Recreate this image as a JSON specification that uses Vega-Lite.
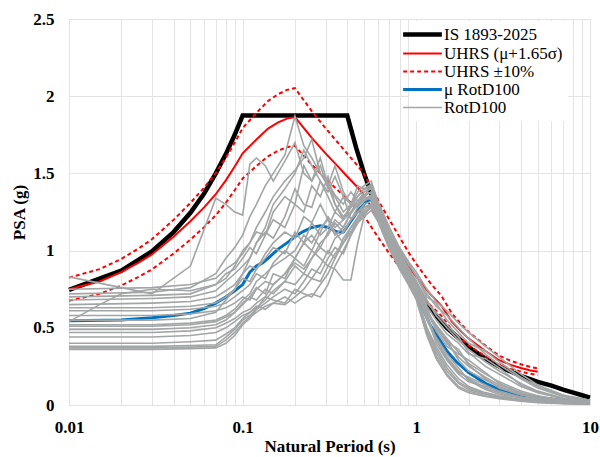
{
"$schema":"https://vega.github.io/schema/vega-lite/v6.json",
"width":521,"height":386,
"autosize":{"type":"none"},
"padding":{"left":69,"top":19,"right":10,"bottom":52},
"config":{
 "font":"Liberation Serif, Times New Roman, serif",
 "view":{"stroke":"#d9d9d9"},
 "axis":{"labelFont":"Liberation Serif, Times New Roman, serif","labelFontSize":17,"labelFontWeight":"bold","labelColor":"#000","titleFont":"Liberation Serif, Times New Roman, serif","titleFontSize":17,"titleFontWeight":"bold","titleColor":"#000","gridColor":"#e3e3e3","gridWidth":1,"ticks":false,"domain":false},
 "legend":{"orient":"none","legendX":340,"legendY":2,"fillColor":"#ffffff","padding":5,"labelFont":"Liberation Serif, Times New Roman, serif","labelFontSize":17,"labelColor":"#000","symbolType":"stroke","symbolSize":1500,"labelOffset":13,"rowPadding":0,"labelLimit":300}
},
"datasets":{
"is":[{"t":0.01,"v":0.745},{"t":0.02,"v":0.87},{"t":0.03,"v":0.995},{"t":0.04,"v":1.12},{"t":0.05,"v":1.245},{"t":0.06,"v":1.37},{"t":0.07,"v":1.5},{"t":0.08,"v":1.625},{"t":0.09,"v":1.75},{"t":0.1,"v":1.875},{"t":0.4,"v":1.875},{"t":0.45,"v":1.667},{"t":0.5,"v":1.5},{"t":0.6,"v":1.25},{"t":0.7,"v":1.071},{"t":0.8,"v":0.938},{"t":0.9,"v":0.833},{"t":1,"v":0.75},{"t":1.25,"v":0.6},{"t":1.5,"v":0.5},{"t":2,"v":0.375},{"t":2.5,"v":0.3},{"t":3,"v":0.25},{"t":4,"v":0.188},{"t":5,"v":0.15},{"t":6,"v":0.125},{"t":7,"v":0.1},{"t":8,"v":0.08},{"t":9,"v":0.063},{"t":10,"v":0.048}],
"uh":[{"t":0.01,"v":0.75},{"t":0.015,"v":0.8},{"t":0.02,"v":0.86},{"t":0.025,"v":0.92},{"t":0.03,"v":0.975},{"t":0.04,"v":1.09},{"t":0.05,"v":1.19},{"t":0.06,"v":1.28},{"t":0.07,"v":1.365},{"t":0.08,"v":1.455},{"t":0.09,"v":1.545},{"t":0.1,"v":1.63},{"t":0.12,"v":1.72},{"t":0.14,"v":1.79},{"t":0.16,"v":1.83},{"t":0.18,"v":1.855},{"t":0.2,"v":1.865},{"t":0.25,"v":1.73},{"t":0.3,"v":1.63},{"t":0.35,"v":1.55},{"t":0.4,"v":1.48},{"t":0.45,"v":1.42},{"t":0.5,"v":1.36},{"t":0.6,"v":1.21},{"t":0.7,"v":1.09},{"t":0.8,"v":0.99},{"t":0.9,"v":0.9},{"t":1,"v":0.83},{"t":1.2,"v":0.72},{"t":1.4,"v":0.64},{"t":1.6,"v":0.54},{"t":1.8,"v":0.48},{"t":2,"v":0.43},{"t":2.5,"v":0.35},{"t":3,"v":0.29},{"t":3.5,"v":0.26},{"t":4,"v":0.24},{"t":4.5,"v":0.225},{"t":5,"v":0.215}],
"ub":[{"s":"a","t":0.01,"v":0.825},{"s":"a","t":0.015,"v":0.88},{"s":"a","t":0.02,"v":0.946},{"s":"a","t":0.025,"v":1.012},{"s":"a","t":0.03,"v":1.073},{"s":"a","t":0.04,"v":1.199},{"s":"a","t":0.05,"v":1.309},{"s":"a","t":0.06,"v":1.408},{"s":"a","t":0.07,"v":1.502},{"s":"a","t":0.08,"v":1.601},{"s":"a","t":0.09,"v":1.7},{"s":"a","t":0.1,"v":1.793},{"s":"a","t":0.12,"v":1.892},{"s":"a","t":0.14,"v":1.969},{"s":"a","t":0.16,"v":2.013},{"s":"a","t":0.18,"v":2.041},{"s":"a","t":0.2,"v":2.052},{"s":"a","t":0.25,"v":1.903},{"s":"a","t":0.3,"v":1.793},{"s":"a","t":0.35,"v":1.705},{"s":"a","t":0.4,"v":1.628},{"s":"a","t":0.45,"v":1.562},{"s":"a","t":0.5,"v":1.496},{"s":"a","t":0.6,"v":1.331},{"s":"a","t":0.7,"v":1.199},{"s":"a","t":0.8,"v":1.089},{"s":"a","t":0.9,"v":0.99},{"s":"a","t":1,"v":0.913},{"s":"a","t":1.2,"v":0.792},{"s":"a","t":1.4,"v":0.704},{"s":"a","t":1.6,"v":0.594},{"s":"a","t":1.8,"v":0.528},{"s":"a","t":2,"v":0.473},{"s":"a","t":2.5,"v":0.385},{"s":"a","t":3,"v":0.319},{"s":"a","t":3.5,"v":0.286},{"s":"a","t":4,"v":0.264},{"s":"a","t":4.5,"v":0.248},{"s":"a","t":5,"v":0.237},
{"s":"b","t":0.01,"v":0.675},{"s":"b","t":0.015,"v":0.72},{"s":"b","t":0.02,"v":0.774},{"s":"b","t":0.025,"v":0.828},{"s":"b","t":0.03,"v":0.878},{"s":"b","t":0.04,"v":0.981},{"s":"b","t":0.05,"v":1.071},{"s":"b","t":0.06,"v":1.152},{"s":"b","t":0.07,"v":1.229},{"s":"b","t":0.08,"v":1.31},{"s":"b","t":0.09,"v":1.391},{"s":"b","t":0.1,"v":1.467},{"s":"b","t":0.12,"v":1.548},{"s":"b","t":0.14,"v":1.611},{"s":"b","t":0.16,"v":1.647},{"s":"b","t":0.18,"v":1.67},{"s":"b","t":0.2,"v":1.679},{"s":"b","t":0.25,"v":1.557},{"s":"b","t":0.3,"v":1.467},{"s":"b","t":0.35,"v":1.395},{"s":"b","t":0.4,"v":1.332},{"s":"b","t":0.45,"v":1.278},{"s":"b","t":0.5,"v":1.224},{"s":"b","t":0.6,"v":1.089},{"s":"b","t":0.7,"v":0.981},{"s":"b","t":0.8,"v":0.891},{"s":"b","t":0.9,"v":0.81},{"s":"b","t":1,"v":0.747},{"s":"b","t":1.2,"v":0.648},{"s":"b","t":1.4,"v":0.576},{"s":"b","t":1.6,"v":0.486},{"s":"b","t":1.8,"v":0.432},{"s":"b","t":2,"v":0.387},{"s":"b","t":2.5,"v":0.315},{"s":"b","t":3,"v":0.261},{"s":"b","t":3.5,"v":0.234},{"s":"b","t":4,"v":0.216},{"s":"b","t":4.5,"v":0.203},{"s":"b","t":5,"v":0.194}],
"mu":[{"t":0.01,"v":0.545},{"t":0.02,"v":0.55},{"t":0.03,"v":0.565},{"t":0.04,"v":0.58},{"t":0.05,"v":0.595},{"t":0.06,"v":0.625},{"t":0.07,"v":0.66},{"t":0.08,"v":0.7},{"t":0.09,"v":0.74},{"t":0.1,"v":0.78},{"t":0.11,"v":0.86},{"t":0.12,"v":0.9},{"t":0.13,"v":0.92},{"t":0.14,"v":0.95},{"t":0.16,"v":1.01},{"t":0.18,"v":1.05},{"t":0.2,"v":1.09},{"t":0.22,"v":1.12},{"t":0.25,"v":1.15},{"t":0.28,"v":1.16},{"t":0.31,"v":1.15},{"t":0.35,"v":1.12},{"t":0.38,"v":1.12},{"t":0.42,"v":1.19},{"t":0.47,"v":1.27},{"t":0.52,"v":1.32},{"t":0.56,"v":1.33},{"t":0.6,"v":1.27},{"t":0.7,"v":1.1},{"t":0.8,"v":0.96},{"t":0.9,"v":0.84},{"t":1,"v":0.72},{"t":1.2,"v":0.52},{"t":1.5,"v":0.35},{"t":1.7,"v":0.28},{"t":2,"v":0.21},{"t":2.5,"v":0.14},{"t":3,"v":0.1},{"t":4,"v":0.065},{"t":5,"v":0.05},{"t":7,"v":0.03},{"t":10,"v":0.02}],
"rd":[
{"s":1,"t":0.01,"v":0.72},{"s":1,"t":0.03,"v":0.73},{"s":1,"t":0.05,"v":0.76},{"s":1,"t":0.07,"v":0.85},{"s":1,"t":0.08,"v":0.95},{"s":1,"t":0.09,"v":1.02},{"s":1,"t":0.1,"v":1.1},{"s":1,"t":0.11,"v":1.22},{"s":1,"t":0.12,"v":1.3},{"s":1,"t":0.135,"v":1.42},{"s":1,"t":0.15,"v":1.5},{"s":1,"t":0.175,"v":1.62},{"s":1,"t":0.2,"v":1.87},{"s":1,"t":0.225,"v":1.68},{"s":1,"t":0.25,"v":1.6},{"s":1,"t":0.28,"v":1.5},{"s":1,"t":0.31,"v":1.44},{"s":1,"t":0.34,"v":1.36},{"s":1,"t":0.38,"v":1.3},{"s":1,"t":0.42,"v":1.38},{"s":1,"t":0.46,"v":1.32},{"s":1,"t":0.5,"v":1.35},{"s":1,"t":0.55,"v":1.42},{"s":1,"t":0.6,"v":1.27},{"s":1,"t":0.7,"v":1.1},{"s":1,"t":0.8,"v":0.98},{"s":1,"t":0.9,"v":0.88},{"s":1,"t":1,"v":0.8},{"s":1,"t":1.15,"v":0.68},{"s":1,"t":1.3,"v":0.58},{"s":1,"t":1.5,"v":0.5},{"s":1,"t":1.75,"v":0.42},{"s":1,"t":2,"v":0.36},{"s":1,"t":2.5,"v":0.28},{"s":1,"t":3,"v":0.22},{"s":1,"t":4,"v":0.14},{"s":1,"t":5,"v":0.09},{"s":1,"t":7,"v":0.045},{"s":1,"t":10,"v":0.02},
{"s":2,"t":0.01,"v":0.83},{"s":2,"t":0.03,"v":0.72},{"s":2,"t":0.05,"v":0.9},{"s":2,"t":0.07,"v":1.34},{"s":2,"t":0.08,"v":1.3},{"s":2,"t":0.09,"v":1.25},{"s":2,"t":0.1,"v":1.23},{"s":2,"t":0.11,"v":1.56},{"s":2,"t":0.12,"v":1.6},{"s":2,"t":0.135,"v":1.55},{"s":2,"t":0.15,"v":1.45},{"s":2,"t":0.175,"v":1.58},{"s":2,"t":0.2,"v":1.7},{"s":2,"t":0.225,"v":1.5},{"s":2,"t":0.25,"v":1.45},{"s":2,"t":0.28,"v":1.55},{"s":2,"t":0.31,"v":1.4},{"s":2,"t":0.34,"v":1.35},{"s":2,"t":0.38,"v":1.25},{"s":2,"t":0.42,"v":1.3},{"s":2,"t":0.46,"v":1.38},{"s":2,"t":0.5,"v":1.42},{"s":2,"t":0.55,"v":1.45},{"s":2,"t":0.6,"v":1.32},{"s":2,"t":0.7,"v":1.15},{"s":2,"t":0.8,"v":1.02},{"s":2,"t":0.9,"v":0.93},{"s":2,"t":1,"v":0.86},{"s":2,"t":1.15,"v":0.75},{"s":2,"t":1.3,"v":0.67},{"s":2,"t":1.5,"v":0.61},{"s":2,"t":1.75,"v":0.53},{"s":2,"t":2,"v":0.47},{"s":2,"t":2.5,"v":0.38},{"s":2,"t":3,"v":0.31},{"s":2,"t":4,"v":0.2},{"s":2,"t":5,"v":0.13},{"s":2,"t":7,"v":0.065},{"s":2,"t":10,"v":0.03},
{"s":3,"t":0.01,"v":0.54},{"s":3,"t":0.015,"v":0.65},{"s":3,"t":0.02,"v":0.72},{"s":3,"t":0.03,"v":0.75},{"s":3,"t":0.05,"v":0.74},{"s":3,"t":0.07,"v":0.78},{"s":3,"t":0.08,"v":0.82},{"s":3,"t":0.09,"v":0.9},{"s":3,"t":0.1,"v":1.0},{"s":3,"t":0.11,"v":1.05},{"s":3,"t":0.12,"v":1.15},{"s":3,"t":0.135,"v":1.25},{"s":3,"t":0.15,"v":1.35},{"s":3,"t":0.175,"v":1.45},{"s":3,"t":0.2,"v":1.52},{"s":3,"t":0.225,"v":1.6},{"s":3,"t":0.25,"v":1.72},{"s":3,"t":0.28,"v":1.5},{"s":3,"t":0.31,"v":1.42},{"s":3,"t":0.34,"v":1.55},{"s":3,"t":0.38,"v":1.38},{"s":3,"t":0.42,"v":1.3},{"s":3,"t":0.46,"v":1.42},{"s":3,"t":0.5,"v":1.4},{"s":3,"t":0.55,"v":1.4},{"s":3,"t":0.6,"v":1.25},{"s":3,"t":0.7,"v":1.08},{"s":3,"t":0.8,"v":0.95},{"s":3,"t":0.9,"v":0.85},{"s":3,"t":1,"v":0.77},{"s":3,"t":1.15,"v":0.62},{"s":3,"t":1.3,"v":0.5},{"s":3,"t":1.5,"v":0.4},{"s":3,"t":1.75,"v":0.31},{"s":3,"t":2,"v":0.25},{"s":3,"t":2.5,"v":0.18},{"s":3,"t":3,"v":0.13},{"s":3,"t":4,"v":0.08},{"s":3,"t":5,"v":0.05},{"s":3,"t":7,"v":0.03},{"s":3,"t":10,"v":0.015},
{"s":4,"t":0.01,"v":0.75},{"s":4,"t":0.03,"v":0.76},{"s":4,"t":0.05,"v":0.78},{"s":4,"t":0.07,"v":0.82},{"s":4,"t":0.08,"v":0.88},{"s":4,"t":0.09,"v":0.92},{"s":4,"t":0.1,"v":0.98},{"s":4,"t":0.11,"v":1.05},{"s":4,"t":0.12,"v":1.12},{"s":4,"t":0.135,"v":1.1},{"s":4,"t":0.15,"v":1.25},{"s":4,"t":0.175,"v":1.35},{"s":4,"t":0.2,"v":1.3},{"s":4,"t":0.225,"v":1.55},{"s":4,"t":0.25,"v":1.45},{"s":4,"t":0.28,"v":1.6},{"s":4,"t":0.31,"v":1.42},{"s":4,"t":0.34,"v":1.3},{"s":4,"t":0.38,"v":1.22},{"s":4,"t":0.42,"v":1.28},{"s":4,"t":0.46,"v":1.35},{"s":4,"t":0.5,"v":1.4},{"s":4,"t":0.55,"v":1.43},{"s":4,"t":0.6,"v":1.3},{"s":4,"t":0.7,"v":1.12},{"s":4,"t":0.8,"v":1.0},{"s":4,"t":0.9,"v":0.91},{"s":4,"t":1,"v":0.84},{"s":4,"t":1.15,"v":0.72},{"s":4,"t":1.3,"v":0.64},{"s":4,"t":1.5,"v":0.58},{"s":4,"t":1.75,"v":0.5},{"s":4,"t":2,"v":0.43},{"s":4,"t":2.5,"v":0.33},{"s":4,"t":3,"v":0.26},{"s":4,"t":4,"v":0.17},{"s":4,"t":5,"v":0.11},{"s":4,"t":7,"v":0.055},{"s":4,"t":10,"v":0.025},
{"s":5,"t":0.01,"v":0.7},{"s":5,"t":0.03,"v":0.71},{"s":5,"t":0.05,"v":0.72},{"s":5,"t":0.07,"v":0.78},{"s":5,"t":0.08,"v":0.85},{"s":5,"t":0.09,"v":0.88},{"s":5,"t":0.1,"v":0.95},{"s":5,"t":0.11,"v":1.02},{"s":5,"t":0.12,"v":0.98},{"s":5,"t":0.135,"v":1.1},{"s":5,"t":0.15,"v":1.2},{"s":5,"t":0.175,"v":1.15},{"s":5,"t":0.2,"v":1.3},{"s":5,"t":0.225,"v":1.25},{"s":5,"t":0.25,"v":1.42},{"s":5,"t":0.28,"v":1.35},{"s":5,"t":0.31,"v":1.48},{"s":5,"t":0.34,"v":1.3},{"s":5,"t":0.38,"v":1.2},{"s":5,"t":0.42,"v":1.25},{"s":5,"t":0.46,"v":1.32},{"s":5,"t":0.5,"v":1.38},{"s":5,"t":0.55,"v":1.4},{"s":5,"t":0.6,"v":1.26},{"s":5,"t":0.7,"v":1.09},{"s":5,"t":0.8,"v":0.97},{"s":5,"t":0.9,"v":0.87},{"s":5,"t":1,"v":0.79},{"s":5,"t":1.15,"v":0.66},{"s":5,"t":1.3,"v":0.6},{"s":5,"t":1.5,"v":0.52},{"s":5,"t":1.75,"v":0.44},{"s":5,"t":2,"v":0.34},{"s":5,"t":2.5,"v":0.25},{"s":5,"t":3,"v":0.2},{"s":5,"t":4,"v":0.12},{"s":5,"t":5,"v":0.08},{"s":5,"t":7,"v":0.04},{"s":5,"t":10,"v":0.02},
{"s":6,"t":0.01,"v":0.68},{"s":6,"t":0.03,"v":0.69},{"s":6,"t":0.05,"v":0.7},{"s":6,"t":0.07,"v":0.74},{"s":6,"t":0.08,"v":0.8},{"s":6,"t":0.09,"v":0.85},{"s":6,"t":0.1,"v":0.9},{"s":6,"t":0.11,"v":0.95},{"s":6,"t":0.12,"v":1.05},{"s":6,"t":0.135,"v":1.12},{"s":6,"t":0.15,"v":1.08},{"s":6,"t":0.175,"v":1.22},{"s":6,"t":0.2,"v":1.4},{"s":6,"t":0.225,"v":1.3},{"s":6,"t":0.25,"v":1.28},{"s":6,"t":0.28,"v":1.45},{"s":6,"t":0.31,"v":1.35},{"s":6,"t":0.34,"v":1.25},{"s":6,"t":0.38,"v":1.35},{"s":6,"t":0.42,"v":1.2},{"s":6,"t":0.46,"v":1.28},{"s":6,"t":0.5,"v":1.35},{"s":6,"t":0.55,"v":1.38},{"s":6,"t":0.6,"v":1.24},{"s":6,"t":0.7,"v":1.07},{"s":6,"t":0.8,"v":0.94},{"s":6,"t":0.9,"v":0.84},{"s":6,"t":1,"v":0.76},{"s":6,"t":1.15,"v":0.6},{"s":6,"t":1.3,"v":0.52},{"s":6,"t":1.5,"v":0.43},{"s":6,"t":1.75,"v":0.34},{"s":6,"t":2,"v":0.27},{"s":6,"t":2.5,"v":0.2},{"s":6,"t":3,"v":0.15},{"s":6,"t":4,"v":0.09},{"s":6,"t":5,"v":0.06},{"s":6,"t":7,"v":0.03},{"s":6,"t":10,"v":0.015},
{"s":7,"t":0.01,"v":0.65},{"s":7,"t":0.03,"v":0.66},{"s":7,"t":0.05,"v":0.67},{"s":7,"t":0.07,"v":0.7},{"s":7,"t":0.08,"v":0.74},{"s":7,"t":0.09,"v":0.78},{"s":7,"t":0.1,"v":0.85},{"s":7,"t":0.11,"v":0.9},{"s":7,"t":0.12,"v":0.88},{"s":7,"t":0.135,"v":0.98},{"s":7,"t":0.15,"v":1.05},{"s":7,"t":0.175,"v":1.12},{"s":7,"t":0.2,"v":1.08},{"s":7,"t":0.225,"v":1.22},{"s":7,"t":0.25,"v":1.18},{"s":7,"t":0.28,"v":1.3},{"s":7,"t":0.31,"v":1.2},{"s":7,"t":0.34,"v":1.1},{"s":7,"t":0.38,"v":1.15},{"s":7,"t":0.42,"v":1.25},{"s":7,"t":0.46,"v":1.3},{"s":7,"t":0.5,"v":1.32},{"s":7,"t":0.55,"v":1.35},{"s":7,"t":0.6,"v":1.23},{"s":7,"t":0.7,"v":1.05},{"s":7,"t":0.8,"v":0.92},{"s":7,"t":0.9,"v":0.82},{"s":7,"t":1,"v":0.74},{"s":7,"t":1.15,"v":0.56},{"s":7,"t":1.3,"v":0.42},{"s":7,"t":1.5,"v":0.31},{"s":7,"t":1.75,"v":0.22},{"s":7,"t":2,"v":0.17},{"s":7,"t":2.5,"v":0.11},{"s":7,"t":3,"v":0.08},{"s":7,"t":4,"v":0.05},{"s":7,"t":5,"v":0.035},{"s":7,"t":7,"v":0.02},{"s":7,"t":10,"v":0.01},
{"s":8,"t":0.01,"v":0.63},{"s":8,"t":0.03,"v":0.63},{"s":8,"t":0.05,"v":0.64},{"s":8,"t":0.07,"v":0.66},{"s":8,"t":0.08,"v":0.7},{"s":8,"t":0.09,"v":0.75},{"s":8,"t":0.1,"v":0.82},{"s":8,"t":0.11,"v":0.8},{"s":8,"t":0.12,"v":0.88},{"s":8,"t":0.135,"v":0.95},{"s":8,"t":0.15,"v":1.02},{"s":8,"t":0.175,"v":0.98},{"s":8,"t":0.2,"v":1.12},{"s":8,"t":0.225,"v":1.05},{"s":8,"t":0.25,"v":1.18},{"s":8,"t":0.28,"v":1.1},{"s":8,"t":0.31,"v":1.15},{"s":8,"t":0.34,"v":1.25},{"s":8,"t":0.38,"v":1.2},{"s":8,"t":0.42,"v":1.3},{"s":8,"t":0.46,"v":1.28},{"s":8,"t":0.5,"v":1.33},{"s":8,"t":0.55,"v":1.36},{"s":8,"t":0.6,"v":1.25},{"s":8,"t":0.7,"v":1.09},{"s":8,"t":0.8,"v":0.96},{"s":8,"t":0.9,"v":0.86},{"s":8,"t":1,"v":0.78},{"s":8,"t":1.15,"v":0.63},{"s":8,"t":1.3,"v":0.48},{"s":8,"t":1.5,"v":0.38},{"s":8,"t":1.75,"v":0.33},{"s":8,"t":2,"v":0.29},{"s":8,"t":2.5,"v":0.21},{"s":8,"t":3,"v":0.14},{"s":8,"t":4,"v":0.08},{"s":8,"t":5,"v":0.05},{"s":8,"t":7,"v":0.025},{"s":8,"t":10,"v":0.012},
{"s":9,"t":0.01,"v":0.61},{"s":9,"t":0.03,"v":0.61},{"s":9,"t":0.05,"v":0.62},{"s":9,"t":0.07,"v":0.64},{"s":9,"t":0.08,"v":0.66},{"s":9,"t":0.09,"v":0.7},{"s":9,"t":0.1,"v":0.74},{"s":9,"t":0.11,"v":0.78},{"s":9,"t":0.12,"v":0.85},{"s":9,"t":0.135,"v":0.82},{"s":9,"t":0.15,"v":0.92},{"s":9,"t":0.175,"v":1.0},{"s":9,"t":0.2,"v":0.95},{"s":9,"t":0.225,"v":1.05},{"s":9,"t":0.25,"v":1.1},{"s":9,"t":0.28,"v":1.02},{"s":9,"t":0.31,"v":1.12},{"s":9,"t":0.34,"v":1.2},{"s":9,"t":0.38,"v":1.15},{"s":9,"t":0.42,"v":1.24},{"s":9,"t":0.46,"v":1.3},{"s":9,"t":0.5,"v":1.35},{"s":9,"t":0.55,"v":1.33},{"s":9,"t":0.6,"v":1.2},{"s":9,"t":0.7,"v":1.03},{"s":9,"t":0.8,"v":0.9},{"s":9,"t":0.9,"v":0.8},{"s":9,"t":1,"v":0.7},{"s":9,"t":1.15,"v":0.48},{"s":9,"t":1.3,"v":0.34},{"s":9,"t":1.5,"v":0.22},{"s":9,"t":1.75,"v":0.14},{"s":9,"t":2,"v":0.1},{"s":9,"t":2.5,"v":0.07},{"s":9,"t":3,"v":0.05},{"s":9,"t":4,"v":0.03},{"s":9,"t":5,"v":0.02},{"s":9,"t":7,"v":0.012},{"s":9,"t":10,"v":0.008},
{"s":10,"t":0.01,"v":0.58},{"s":10,"t":0.03,"v":0.58},{"s":10,"t":0.05,"v":0.59},{"s":10,"t":0.07,"v":0.61},{"s":10,"t":0.08,"v":0.63},{"s":10,"t":0.09,"v":0.66},{"s":10,"t":0.1,"v":0.7},{"s":10,"t":0.11,"v":0.68},{"s":10,"t":0.12,"v":0.75},{"s":10,"t":0.135,"v":0.8},{"s":10,"t":0.15,"v":0.78},{"s":10,"t":0.175,"v":0.85},{"s":10,"t":0.2,"v":0.92},{"s":10,"t":0.225,"v":0.88},{"s":10,"t":0.25,"v":0.95},{"s":10,"t":0.28,"v":1.02},{"s":10,"t":0.31,"v":0.98},{"s":10,"t":0.34,"v":1.08},{"s":10,"t":0.38,"v":1.12},{"s":10,"t":0.42,"v":1.2},{"s":10,"t":0.46,"v":1.25},{"s":10,"t":0.5,"v":1.3},{"s":10,"t":0.55,"v":1.32},{"s":10,"t":0.6,"v":1.22},{"s":10,"t":0.7,"v":1.04},{"s":10,"t":0.8,"v":0.91},{"s":10,"t":0.9,"v":0.81},{"s":10,"t":1,"v":0.73},{"s":10,"t":1.15,"v":0.55},{"s":10,"t":1.3,"v":0.44},{"s":10,"t":1.5,"v":0.33},{"s":10,"t":1.75,"v":0.24},{"s":10,"t":2,"v":0.16},{"s":10,"t":2.5,"v":0.1},{"s":10,"t":3,"v":0.07},{"s":10,"t":4,"v":0.045},{"s":10,"t":5,"v":0.03},{"s":10,"t":7,"v":0.018},{"s":10,"t":10,"v":0.01},
{"s":11,"t":0.01,"v":0.52},{"s":11,"t":0.03,"v":0.52},{"s":11,"t":0.05,"v":0.53},{"s":11,"t":0.07,"v":0.55},{"s":11,"t":0.08,"v":0.58},{"s":11,"t":0.09,"v":0.62},{"s":11,"t":0.1,"v":0.68},{"s":11,"t":0.11,"v":0.72},{"s":11,"t":0.12,"v":0.8},{"s":11,"t":0.135,"v":0.85},{"s":11,"t":0.15,"v":0.9},{"s":11,"t":0.175,"v":0.95},{"s":11,"t":0.2,"v":1.0},{"s":11,"t":0.225,"v":1.1},{"s":11,"t":0.25,"v":1.05},{"s":11,"t":0.28,"v":1.15},{"s":11,"t":0.31,"v":1.2},{"s":11,"t":0.34,"v":1.12},{"s":11,"t":0.38,"v":1.05},{"s":11,"t":0.42,"v":1.15},{"s":11,"t":0.46,"v":1.22},{"s":11,"t":0.5,"v":1.28},{"s":11,"t":0.55,"v":1.3},{"s":11,"t":0.6,"v":1.23},{"s":11,"t":0.7,"v":1.06},{"s":11,"t":0.8,"v":0.93},{"s":11,"t":0.9,"v":0.83},{"s":11,"t":1,"v":0.75},{"s":11,"t":1.15,"v":0.6},{"s":11,"t":1.3,"v":0.49},{"s":11,"t":1.5,"v":0.42},{"s":11,"t":1.75,"v":0.29},{"s":11,"t":2,"v":0.22},{"s":11,"t":2.5,"v":0.16},{"s":11,"t":3,"v":0.12},{"s":11,"t":4,"v":0.07},{"s":11,"t":5,"v":0.045},{"s":11,"t":7,"v":0.025},{"s":11,"t":10,"v":0.012},
{"s":12,"t":0.01,"v":0.51},{"s":12,"t":0.03,"v":0.51},{"s":12,"t":0.05,"v":0.52},{"s":12,"t":0.07,"v":0.54},{"s":12,"t":0.08,"v":0.57},{"s":12,"t":0.09,"v":0.6},{"s":12,"t":0.1,"v":0.65},{"s":12,"t":0.11,"v":0.7},{"s":12,"t":0.12,"v":0.76},{"s":12,"t":0.135,"v":0.72},{"s":12,"t":0.15,"v":0.85},{"s":12,"t":0.175,"v":0.82},{"s":12,"t":0.2,"v":0.95},{"s":12,"t":0.225,"v":0.9},{"s":12,"t":0.25,"v":1.0},{"s":12,"t":0.28,"v":0.95},{"s":12,"t":0.31,"v":0.9},{"s":12,"t":0.34,"v":0.88},{"s":12,"t":0.38,"v":0.81},{"s":12,"t":0.42,"v":0.81},{"s":12,"t":0.46,"v":1.05},{"s":12,"t":0.5,"v":1.22},{"s":12,"t":0.55,"v":1.3},{"s":12,"t":0.6,"v":1.21},{"s":12,"t":0.7,"v":1.04},{"s":12,"t":0.8,"v":0.91},{"s":12,"t":0.9,"v":0.81},{"s":12,"t":1,"v":0.71},{"s":12,"t":1.15,"v":0.5},{"s":12,"t":1.3,"v":0.36},{"s":12,"t":1.5,"v":0.24},{"s":12,"t":1.75,"v":0.15},{"s":12,"t":2,"v":0.11},{"s":12,"t":2.5,"v":0.075},{"s":12,"t":3,"v":0.055},{"s":12,"t":4,"v":0.035},{"s":12,"t":5,"v":0.022},{"s":12,"t":7,"v":0.012},{"s":12,"t":10,"v":0.007},
{"s":13,"t":0.01,"v":0.49},{"s":13,"t":0.03,"v":0.49},{"s":13,"t":0.05,"v":0.5},{"s":13,"t":0.07,"v":0.52},{"s":13,"t":0.08,"v":0.55},{"s":13,"t":0.09,"v":0.6},{"s":13,"t":0.1,"v":0.66},{"s":13,"t":0.11,"v":0.7},{"s":13,"t":0.12,"v":0.68},{"s":13,"t":0.135,"v":0.75},{"s":13,"t":0.15,"v":0.72},{"s":13,"t":0.175,"v":0.8},{"s":13,"t":0.2,"v":0.78},{"s":13,"t":0.225,"v":0.85},{"s":13,"t":0.25,"v":0.82},{"s":13,"t":0.28,"v":0.9},{"s":13,"t":0.31,"v":1.0},{"s":13,"t":0.34,"v":0.95},{"s":13,"t":0.38,"v":1.08},{"s":13,"t":0.42,"v":1.15},{"s":13,"t":0.46,"v":1.2},{"s":13,"t":0.5,"v":1.28},{"s":13,"t":0.55,"v":1.3},{"s":13,"t":0.6,"v":1.2},{"s":13,"t":0.7,"v":1.02},{"s":13,"t":0.8,"v":0.89},{"s":13,"t":0.9,"v":0.79},{"s":13,"t":1,"v":0.69},{"s":13,"t":1.15,"v":0.46},{"s":13,"t":1.3,"v":0.32},{"s":13,"t":1.5,"v":0.2},{"s":13,"t":1.75,"v":0.12},{"s":13,"t":2,"v":0.09},{"s":13,"t":2.5,"v":0.06},{"s":13,"t":3,"v":0.045},{"s":13,"t":4,"v":0.028},{"s":13,"t":5,"v":0.018},{"s":13,"t":7,"v":0.01},{"s":13,"t":10,"v":0.006},
{"s":14,"t":0.01,"v":0.47},{"s":14,"t":0.03,"v":0.47},{"s":14,"t":0.05,"v":0.48},{"s":14,"t":0.07,"v":0.5},{"s":14,"t":0.08,"v":0.53},{"s":14,"t":0.09,"v":0.56},{"s":14,"t":0.1,"v":0.6},{"s":14,"t":0.11,"v":0.62},{"s":14,"t":0.12,"v":0.66},{"s":14,"t":0.135,"v":0.7},{"s":14,"t":0.15,"v":0.68},{"s":14,"t":0.175,"v":0.66},{"s":14,"t":0.2,"v":0.75},{"s":14,"t":0.225,"v":0.72},{"s":14,"t":0.25,"v":0.7},{"s":14,"t":0.28,"v":0.78},{"s":14,"t":0.31,"v":0.85},{"s":14,"t":0.34,"v":0.95},{"s":14,"t":0.38,"v":1.05},{"s":14,"t":0.42,"v":1.12},{"s":14,"t":0.46,"v":1.2},{"s":14,"t":0.5,"v":1.25},{"s":14,"t":0.55,"v":1.28},{"s":14,"t":0.6,"v":1.22},{"s":14,"t":0.7,"v":1.05},{"s":14,"t":0.8,"v":0.92},{"s":14,"t":0.9,"v":0.82},{"s":14,"t":1,"v":0.73},{"s":14,"t":1.15,"v":0.57},{"s":14,"t":1.3,"v":0.4},{"s":14,"t":1.5,"v":0.29},{"s":14,"t":1.75,"v":0.2},{"s":14,"t":2,"v":0.15},{"s":14,"t":2.5,"v":0.12},{"s":14,"t":3,"v":0.09},{"s":14,"t":4,"v":0.05},{"s":14,"t":5,"v":0.03},{"s":14,"t":7,"v":0.018},{"s":14,"t":10,"v":0.008},
{"s":15,"t":0.01,"v":0.44},{"s":15,"t":0.03,"v":0.44},{"s":15,"t":0.05,"v":0.45},{"s":15,"t":0.07,"v":0.47},{"s":15,"t":0.08,"v":0.5},{"s":15,"t":0.09,"v":0.54},{"s":15,"t":0.1,"v":0.58},{"s":15,"t":0.11,"v":0.6},{"s":15,"t":0.12,"v":0.64},{"s":15,"t":0.135,"v":0.62},{"s":15,"t":0.15,"v":0.66},{"s":15,"t":0.175,"v":0.7},{"s":15,"t":0.2,"v":0.66},{"s":15,"t":0.225,"v":0.7},{"s":15,"t":0.25,"v":0.72},{"s":15,"t":0.28,"v":0.7},{"s":15,"t":0.31,"v":0.78},{"s":15,"t":0.34,"v":0.9},{"s":15,"t":0.38,"v":1.0},{"s":15,"t":0.42,"v":1.1},{"s":15,"t":0.46,"v":1.18},{"s":15,"t":0.5,"v":1.22},{"s":15,"t":0.55,"v":1.26},{"s":15,"t":0.6,"v":1.19},{"s":15,"t":0.7,"v":1.01},{"s":15,"t":0.8,"v":0.88},{"s":15,"t":0.9,"v":0.78},{"s":15,"t":1,"v":0.68},{"s":15,"t":1.15,"v":0.45},{"s":15,"t":1.3,"v":0.3},{"s":15,"t":1.5,"v":0.19},{"s":15,"t":1.75,"v":0.11},{"s":15,"t":2,"v":0.08},{"s":15,"t":2.5,"v":0.055},{"s":15,"t":3,"v":0.04},{"s":15,"t":4,"v":0.025},{"s":15,"t":5,"v":0.015},{"s":15,"t":7,"v":0.009},{"s":15,"t":10,"v":0.005},
{"s":16,"t":0.01,"v":0.4},{"s":16,"t":0.03,"v":0.4},{"s":16,"t":0.05,"v":0.41},{"s":16,"t":0.07,"v":0.42},{"s":16,"t":0.08,"v":0.46},{"s":16,"t":0.09,"v":0.5},{"s":16,"t":0.1,"v":0.56},{"s":16,"t":0.11,"v":0.6},{"s":16,"t":0.12,"v":0.63},{"s":16,"t":0.135,"v":0.68},{"s":16,"t":0.15,"v":0.74},{"s":16,"t":0.175,"v":0.8},{"s":16,"t":0.2,"v":0.9},{"s":16,"t":0.225,"v":0.85},{"s":16,"t":0.25,"v":0.95},{"s":16,"t":0.28,"v":1.05},{"s":16,"t":0.31,"v":1.1},{"s":16,"t":0.34,"v":1.18},{"s":16,"t":0.38,"v":1.12},{"s":16,"t":0.42,"v":1.2},{"s":16,"t":0.46,"v":1.25},{"s":16,"t":0.5,"v":1.28},{"s":16,"t":0.55,"v":1.3},{"s":16,"t":0.6,"v":1.24},{"s":16,"t":0.7,"v":1.07},{"s":16,"t":0.8,"v":0.95},{"s":16,"t":0.9,"v":0.85},{"s":16,"t":1,"v":0.76},{"s":16,"t":1.15,"v":0.61},{"s":16,"t":1.3,"v":0.51},{"s":16,"t":1.5,"v":0.41},{"s":16,"t":1.75,"v":0.36},{"s":16,"t":2,"v":0.26},{"s":16,"t":2.5,"v":0.17},{"s":16,"t":3,"v":0.11},{"s":16,"t":4,"v":0.065},{"s":16,"t":5,"v":0.04},{"s":16,"t":7,"v":0.02},{"s":16,"t":10,"v":0.01},
{"s":17,"t":0.01,"v":0.38},{"s":17,"t":0.03,"v":0.38},{"s":17,"t":0.05,"v":0.385},{"s":17,"t":0.07,"v":0.39},{"s":17,"t":0.08,"v":0.44},{"s":17,"t":0.09,"v":0.49},{"s":17,"t":0.1,"v":0.55},{"s":17,"t":0.11,"v":0.58},{"s":17,"t":0.12,"v":0.62},{"s":17,"t":0.135,"v":0.66},{"s":17,"t":0.15,"v":0.7},{"s":17,"t":0.175,"v":0.75},{"s":17,"t":0.2,"v":0.72},{"s":17,"t":0.225,"v":0.8},{"s":17,"t":0.25,"v":0.88},{"s":17,"t":0.28,"v":0.85},{"s":17,"t":0.31,"v":0.95},{"s":17,"t":0.34,"v":1.02},{"s":17,"t":0.38,"v":0.98},{"s":17,"t":0.42,"v":1.1},{"s":17,"t":0.46,"v":1.18},{"s":17,"t":0.5,"v":1.24},{"s":17,"t":0.55,"v":1.28},{"s":17,"t":0.6,"v":1.23},{"s":17,"t":0.7,"v":1.06},{"s":17,"t":0.8,"v":0.93},{"s":17,"t":0.9,"v":0.83},{"s":17,"t":1,"v":0.75},{"s":17,"t":1.15,"v":0.58},{"s":17,"t":1.3,"v":0.43},{"s":17,"t":1.5,"v":0.3},{"s":17,"t":1.75,"v":0.21},{"s":17,"t":2,"v":0.18},{"s":17,"t":2.5,"v":0.13},{"s":17,"t":3,"v":0.085},{"s":17,"t":4,"v":0.045},{"s":17,"t":5,"v":0.03},{"s":17,"t":7,"v":0.015},{"s":17,"t":10,"v":0.008},
{"s":18,"t":0.01,"v":0.37},{"s":18,"t":0.03,"v":0.37},{"s":18,"t":0.05,"v":0.375},{"s":18,"t":0.07,"v":0.38},{"s":18,"t":0.08,"v":0.42},{"s":18,"t":0.09,"v":0.47},{"s":18,"t":0.1,"v":0.53},{"s":18,"t":0.11,"v":0.57},{"s":18,"t":0.12,"v":0.6},{"s":18,"t":0.135,"v":0.64},{"s":18,"t":0.15,"v":0.66},{"s":18,"t":0.175,"v":0.65},{"s":18,"t":0.2,"v":0.7},{"s":18,"t":0.225,"v":0.75},{"s":18,"t":0.25,"v":0.82},{"s":18,"t":0.28,"v":0.8},{"s":18,"t":0.31,"v":0.9},{"s":18,"t":0.34,"v":0.98},{"s":18,"t":0.38,"v":1.05},{"s":18,"t":0.42,"v":1.12},{"s":18,"t":0.46,"v":1.2},{"s":18,"t":0.5,"v":1.26},{"s":18,"t":0.55,"v":1.3},{"s":18,"t":0.6,"v":1.21},{"s":18,"t":0.7,"v":1.03},{"s":18,"t":0.8,"v":0.9},{"s":18,"t":0.9,"v":0.8},{"s":18,"t":1,"v":0.7},{"s":18,"t":1.15,"v":0.5},{"s":18,"t":1.3,"v":0.38},{"s":18,"t":1.5,"v":0.26},{"s":18,"t":1.75,"v":0.17},{"s":18,"t":2,"v":0.12},{"s":18,"t":2.5,"v":0.08},{"s":18,"t":3,"v":0.06},{"s":18,"t":4,"v":0.035},{"s":18,"t":5,"v":0.022},{"s":18,"t":7,"v":0.012},{"s":18,"t":10,"v":0.007},
{"s":19,"t":0.01,"v":0.36},{"s":19,"t":0.03,"v":0.36},{"s":19,"t":0.05,"v":0.365},{"s":19,"t":0.07,"v":0.37},{"s":19,"t":0.08,"v":0.4},{"s":19,"t":0.09,"v":0.45},{"s":19,"t":0.1,"v":0.52},{"s":19,"t":0.11,"v":0.56},{"s":19,"t":0.12,"v":0.62},{"s":19,"t":0.135,"v":0.7},{"s":19,"t":0.15,"v":0.78},{"s":19,"t":0.175,"v":0.85},{"s":19,"t":0.2,"v":0.95},{"s":19,"t":0.225,"v":1.05},{"s":19,"t":0.25,"v":1.0},{"s":19,"t":0.28,"v":1.12},{"s":19,"t":0.31,"v":1.22},{"s":19,"t":0.34,"v":1.15},{"s":19,"t":0.38,"v":1.2},{"s":19,"t":0.42,"v":1.28},{"s":19,"t":0.46,"v":1.32},{"s":19,"t":0.5,"v":1.36},{"s":19,"t":0.55,"v":1.38},{"s":19,"t":0.6,"v":1.28},{"s":19,"t":0.7,"v":1.11},{"s":19,"t":0.8,"v":0.99},{"s":19,"t":0.9,"v":0.89},{"s":19,"t":1,"v":0.8},{"s":19,"t":1.15,"v":0.64},{"s":19,"t":1.3,"v":0.55},{"s":19,"t":1.5,"v":0.46},{"s":19,"t":1.75,"v":0.4},{"s":19,"t":2,"v":0.33},{"s":19,"t":2.5,"v":0.3},{"s":19,"t":3,"v":0.24},{"s":19,"t":4,"v":0.13},{"s":19,"t":5,"v":0.085},{"s":19,"t":7,"v":0.04},{"s":19,"t":10,"v":0.018},
{"s":20,"t":0.01,"v":0.55},{"s":20,"t":0.03,"v":0.55},{"s":20,"t":0.05,"v":0.56},{"s":20,"t":0.07,"v":0.6},{"s":20,"t":0.08,"v":0.68},{"s":20,"t":0.09,"v":0.75},{"s":20,"t":0.1,"v":0.85},{"s":20,"t":0.11,"v":0.95},{"s":20,"t":0.12,"v":1.05},{"s":20,"t":0.135,"v":1.15},{"s":20,"t":0.15,"v":1.3},{"s":20,"t":0.175,"v":1.4},{"s":20,"t":0.2,"v":1.5},{"s":20,"t":0.225,"v":1.65},{"s":20,"t":0.25,"v":1.55},{"s":20,"t":0.28,"v":1.45},{"s":20,"t":0.31,"v":1.38},{"s":20,"t":0.34,"v":1.48},{"s":20,"t":0.38,"v":1.35},{"s":20,"t":0.42,"v":1.3},{"s":20,"t":0.46,"v":1.35},{"s":20,"t":0.5,"v":1.4},{"s":20,"t":0.55,"v":1.42},{"s":20,"t":0.6,"v":1.31},{"s":20,"t":0.7,"v":1.14},{"s":20,"t":0.8,"v":1.01},{"s":20,"t":0.9,"v":0.92},{"s":20,"t":1,"v":0.83},{"s":20,"t":1.15,"v":0.7},{"s":20,"t":1.3,"v":0.66},{"s":20,"t":1.5,"v":0.55},{"s":20,"t":1.75,"v":0.47},{"s":20,"t":2,"v":0.4},{"s":20,"t":2.5,"v":0.35},{"s":20,"t":3,"v":0.28},{"s":20,"t":4,"v":0.18},{"s":20,"t":5,"v":0.12},{"s":20,"t":7,"v":0.06},{"s":20,"t":10,"v":0.03}
]
},
"encoding":{
 "x":{"field":"t","type":"quantitative","scale":{"type":"log","domain":[0.01,10],"nice":false},
  "axis":{"title":"Natural Period (s)","values":[0.01,0.02,0.03,0.04,0.05,0.06,0.07,0.08,0.09,0.1,0.2,0.3,0.4,0.5,0.6,0.7,0.8,0.9,1,2,3,4,5,6,7,8,9,10],"format":"~g","labelExpr":"datum.value == 0.01 || datum.value == 0.1 || datum.value == 1 || datum.value == 10 ? datum.label : ''","labelOverlap":false,"labelFlush":false,"labelPadding":14,"titlePadding":3}},
 "y":{"field":"v","type":"quantitative","scale":{"domain":[0,2.5],"nice":false},
  "axis":{"title":"PSA (g)","values":[0,0.5,1,1.5,2,2.5],"format":"~g","labelPadding":15,"titlePadding":4}}
},
"layer":[
 {"data":{"name":"is"},"mark":{"type":"line","strokeWidth":4.5},"encoding":{"color":{"datum":"IS 1893-2025","type":"nominal","scale":{"domain":["IS 1893-2025","UHRS (μ+1.65σ)","UHRS ±10%","μ RotD100","RotD100"],"range":["#000000","#ff0000","#ff0000","#0070c0","#a2a5a5"]},
  "legend":{"title":null,"encode":{"symbols":{"update":{"strokeDash":{"signal":"datum.value === 'UHRS ±10%' ? [4,3] : [1,0]"},"strokeWidth":{"signal":"datum.value === 'IS 1893-2025' ? 4.5 : datum.value === 'μ RotD100' ? 3 : datum.value === 'RotD100' ? 1.6 : 2"}}}}}}}},
 {"data":{"name":"uh"},"mark":{"type":"line","strokeWidth":2},"encoding":{"color":{"datum":"UHRS (μ+1.65σ)","type":"nominal"}}},
 {"data":{"name":"ub"},"mark":{"type":"line","strokeWidth":2,"strokeDash":[4,3]},"encoding":{"detail":{"field":"s"},"color":{"datum":"UHRS ±10%","type":"nominal"}}},
 {"data":{"name":"mu"},"mark":{"type":"line","strokeWidth":3},"encoding":{"color":{"datum":"μ RotD100","type":"nominal"}}},
 {"data":{"name":"rd"},"mark":{"type":"line","strokeWidth":1.6},"encoding":{"detail":{"field":"s"},"color":{"datum":"RotD100","type":"nominal"}}}
]
}
